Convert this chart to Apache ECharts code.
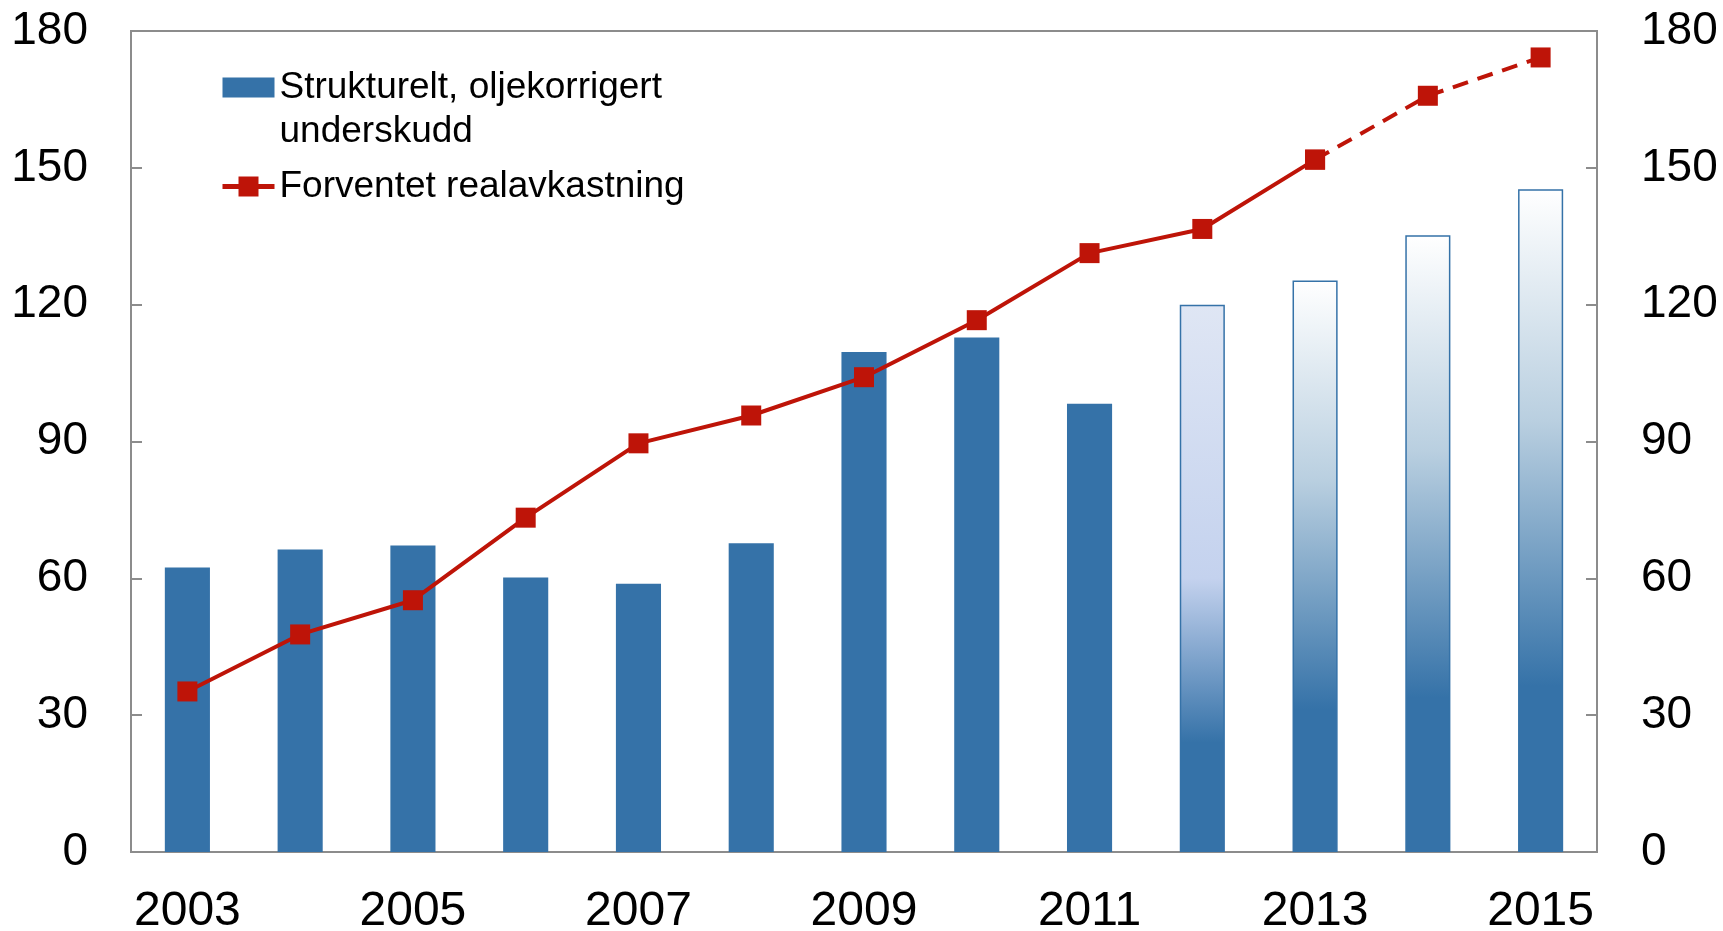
<!DOCTYPE html>
<html>
<head>
<meta charset="utf-8">
<script src="https://cdn.jsdelivr.net/npm/echarts@6/dist/echarts.min.js"></script>
<style>
html, body { margin: 0; padding: 0; background: #fff; }
#chart { width: 1723px; height: 931px; }
</style>
</head>
<body>
<div id="chart"></div>
<script>
// data
var years = ['2003', '2004', '2005', '2006', '2007', '2008', '2009',
		'2010', '2011', '2012', '2013', '2014', '2015'];
var underskudd = [62.4, 66.3, 67.2, 60.2, 58.8, 67.7, 109.6, 112.8, 98.3,
		120.0, 125.3, 135.2, 145.3];
var realavkastning = [35.2, 47.7, 55.2, 73.3, 89.6, 95.7, 104.1, 116.6,
		131.3, 136.6, 151.8, 165.8, 174.2];
var yTicks = [0, 30, 60, 90, 120, 150, 180];
var firstProjection = 9; // 2012 onwards drawn with gradient
var lastActualLine = 10; // line solid up to 2013

var barName = 'Strukturelt, oljekorrigert underskudd';
var lineName = 'Forventet realavkastning';
var blue = '#3572a8';
var red = '#be1408';
var fontFamily = '"Liberation Sans", Arial, sans-serif';

var myChart = echarts.init(document.getElementById('chart'));

function gradientFor(i) {
	if (i === firstProjection) {
		return new echarts.graphic.LinearGradient(0, 0, 0, 1, [
			{ offset : 0, color : '#dfe6f4' },
			{ offset : 0.5, color : '#c4d2ee' },
			{ offset : 0.8, color : blue },
			{ offset : 1, color : blue } ]);
	}
	return new echarts.graphic.LinearGradient(0, 0, 0, 1, [
		{ offset : 0, color : '#ffffff' },
		{ offset : 0.35, color : '#b9cfe0' },
		{ offset : 0.75, color : blue },
		{ offset : 1, color : blue } ]);
}

var barData = underskudd.map(function(v, i) {
	if (i < firstProjection) {
		return v;
	}
	return {
		value : v,
		itemStyle : {
			color : gradientFor(i),
			borderColor : blue,
			borderWidth : 1.5
		}
	};
});

var lineSolid = realavkastning.map(function(v, i) {
	return i <= lastActualLine ? v : '-';
});
var lineDashed = realavkastning.map(function(v, i) {
	return i >= lastActualLine ? v : '-';
});

var axisColor = '#8c8c8c';
var labelStyle = {
	color : '#000',
	fontSize : 46,
	fontFamily : fontFamily
};

var option = {
	animation : false,
	textStyle : { fontFamily : fontFamily },
	grid : {
		left : 131,
		right : 126,
		top : 31,
		bottom : 79,
		outerBoundsMode : 'none',
		show : true,
		borderColor : axisColor,
		borderWidth : 2
	},
	legend : {
		orient : 'vertical',
		left : 215,
		top : 20,
		itemGap : 18,
		itemWidth : 52,
		itemHeight : 25,
		symbolKeepAspect : true,
		data : [ {
			name : barName,
			icon : 'path://M0,0H52V20H0Z'
		}, {
			name : lineName,
			lineStyle : { width : 5 }
		} ],
		formatter : function(name) {
			if (name === barName) {
				return '{e|\u00a0}\n{t|Strukturelt, oljekorrigert}\n{t|underskudd}';
			}
			return '{t|' + name + '}';
		},
		textStyle : {
			color : '#000',
			fontSize : 37,
			fontFamily : fontFamily,
			rich : {
				e : { fontSize : 37, lineHeight : 44 },
				t : { fontSize : 37, lineHeight : 44, color : '#000' }
			}
		}
	},
	xAxis : {
		type : 'category',
		data : years,
		boundaryGap : true,
		axisLine : { lineStyle : { color : axisColor, width : 2 } },
		axisTick : {
			inside : true,
			length : 11,
			interval : 1,
			lineStyle : { color : axisColor, width : 2 }
		},
		axisLabel : Object.assign({ interval : 1, margin : 36 }, labelStyle, { fontSize : 48 }),
		splitLine : { show : false }
	},
	yAxis : [ {
		type : 'value',
		min : yTicks[0],
		max : yTicks[yTicks.length - 1],
		interval : 30,
		axisLine : { show : true, lineStyle : { color : axisColor, width : 2 } },
		axisTick : { show : true, inside : true, length : 11, lineStyle : { color : axisColor, width : 2 } },
		axisLabel : Object.assign({ margin : 43 }, labelStyle),
		splitLine : { show : false }
	}, {
		type : 'value',
		position : 'right',
		min : yTicks[0],
		max : yTicks[yTicks.length - 1],
		interval : 30,
		axisLine : { show : true, lineStyle : { color : axisColor, width : 2 } },
		axisTick : { show : true, inside : true, length : 11, lineStyle : { color : axisColor, width : 2 } },
		axisLabel : Object.assign({ margin : 44 }, labelStyle),
		splitLine : { show : false }
	} ],
	series : [ {
		name : barName,
		type : 'bar',
		barWidth : '40%',
		itemStyle : { color : blue },
		data : barData
	}, {
		name : lineName,
		type : 'line',
		z : 5,
		symbol : 'rect',
		symbolSize : 20,
		lineStyle : { color : red, width : 4 },
		itemStyle : { color : red },
		data : lineSolid
	}, {
		name : lineName,
		type : 'line',
		z : 4,
		symbol : 'rect',
		symbolSize : 20,
		lineStyle : { color : red, width : 4, type : [ 16, 10 ] },
		itemStyle : { color : red },
		data : lineDashed
	} ]
};

myChart.setOption(option);
</script>
</body>
</html>
